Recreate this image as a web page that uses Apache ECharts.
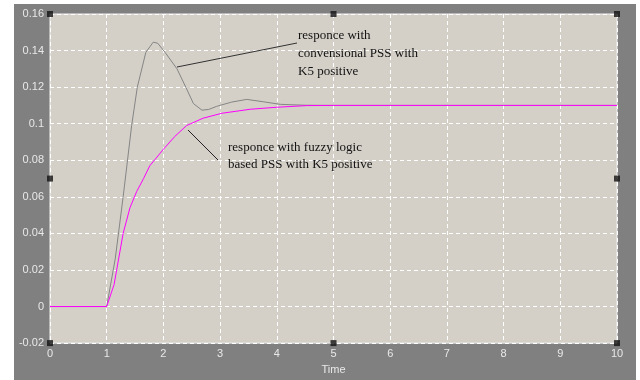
<!DOCTYPE html>
<html><head><meta charset="utf-8">
<script src="https://cdn.jsdelivr.net/npm/echarts@6/dist/echarts.min.js"></script>
<style>html,body{margin:0;padding:0;background:#fff}#c{width:640px;height:380px}</style>
</head><body><div id="c"></div>
<script>
const convT = [0,1,1.03,1.15,1.29,1.44,1.54,1.69,1.82,1.9,2.03,2.24,2.41,2.53,2.68,2.8,2.94,3.2,3.47,3.76,4.06,4.5,5,6,7,8,9,10];
const convV = [0,0,0,0.026,0.060,0.099,0.120,0.139,0.1446,0.1440,0.139,0.130,0.119,0.111,0.1074,0.1078,0.1095,0.1118,0.1133,0.112,0.1106,0.1101,0.1100,0.1100,0.1100,0.1100,0.1100,0.1100];
const fuzzT = [0,1,1.03,1.13,1.29,1.41,1.53,1.65,1.76,2.0,2.2,2.41,2.7,3.03,3.53,4.0,4.53,5,6,7,8,9,10];
const fuzzV = [0,0,0,0.012,0.040,0.054,0.063,0.070,0.077,0.086,0.093,0.099,0.103,0.1057,0.1079,0.109,0.1099,0.1100,0.1100,0.1100,0.1100,0.1100,0.1100];
const xTicks = [0,1,2,3,4,5,6,7,8,9,10];
const yTicks = [-0.02,0,0.02,0.04,0.06,0.08,0.1,0.12,0.14,0.16];
const handles = [[0,0.16],[5,0.16],[10,0.16],[0,0.07],[10,0.07],[0,-0.02],[5,-0.02],[10,-0.02]];
const xLabel = 'Time';
const note1 = ['responce with','convensional PSS with','K5 positive'];
const note2 = ['responce with fuzzy logic','based PSS with K5 positive'];

const zip = (a,b)=>a.map((v,i)=>[v,b[i]]);
const chart = echarts.init(document.getElementById('c'));
const lbl = {color:'#e8e8e8', fontFamily:'Liberation Sans', fontSize:11};
chart.setOption({
  animation:false,
  backgroundColor:'#ffffff',
  graphic:[
    {type:'rect', shape:{x:14,y:4,width:622,height:376}, style:{fill:'#808080'}, z:-10},
    {type:'line', shape:{x1:177,y1:67,x2:297,y2:43}, style:{stroke:'#333',lineWidth:1}, z:100},
    {type:'line', shape:{x1:188,y1:130,x2:218,y2:160}, style:{stroke:'#222',lineWidth:1}, z:100},
    {type:'text', left:298, top:27, style:{text:note1.join('\n'), fill:'#111', font:'13px "Liberation Serif"', lineHeight:18}, z:100},
    {type:'text', left:228, top:139, style:{text:note2.join('\n'), fill:'#111', font:'13px "Liberation Serif"', lineHeight:17}, z:100}
  ],
  grid:{left:50, top:14, right:23, bottom:31, show:true, backgroundColor:'#d4d0c8', borderColor:'#f2f2f2', borderWidth:1},
  xAxis:{type:'value', min:0, max:10, interval:1,
    name:xLabel, nameLocation:'middle', nameGap:17, nameTextStyle:lbl,
    axisLine:{show:false}, axisTick:{show:false},
    axisLabel:Object.assign({margin:5, formatter:v=>xTicks.includes(v)?String(v):''}, lbl),
    splitLine:{show:true, lineStyle:{color:'#ffffff', type:[4,3], width:1}}},
  yAxis:{type:'value', min:-0.02, max:0.16, interval:0.02,
    axisLine:{show:false}, axisTick:{show:false},
    axisLabel:Object.assign({margin:6, formatter:v=>{const t=yTicks.find(k=>Math.abs(k-v)<1e-9);return t===undefined?'':String(t);}}, lbl),
    splitLine:{show:true, lineStyle:{color:'#ffffff', type:[4,3], width:1}}},
  series:[
    {type:'line', data:zip(convT,convV), showSymbol:false, lineStyle:{color:'#858585', width:1}, z:3},
    {type:'line', data:zip(fuzzT,fuzzV), showSymbol:false, lineStyle:{color:'#ff00ff', width:1}, z:4},
    {type:'scatter', data:handles, symbol:'rect', symbolSize:6, itemStyle:{color:'#111'}, clip:false, z:10, silent:true}
  ]
});
</script></body></html>
